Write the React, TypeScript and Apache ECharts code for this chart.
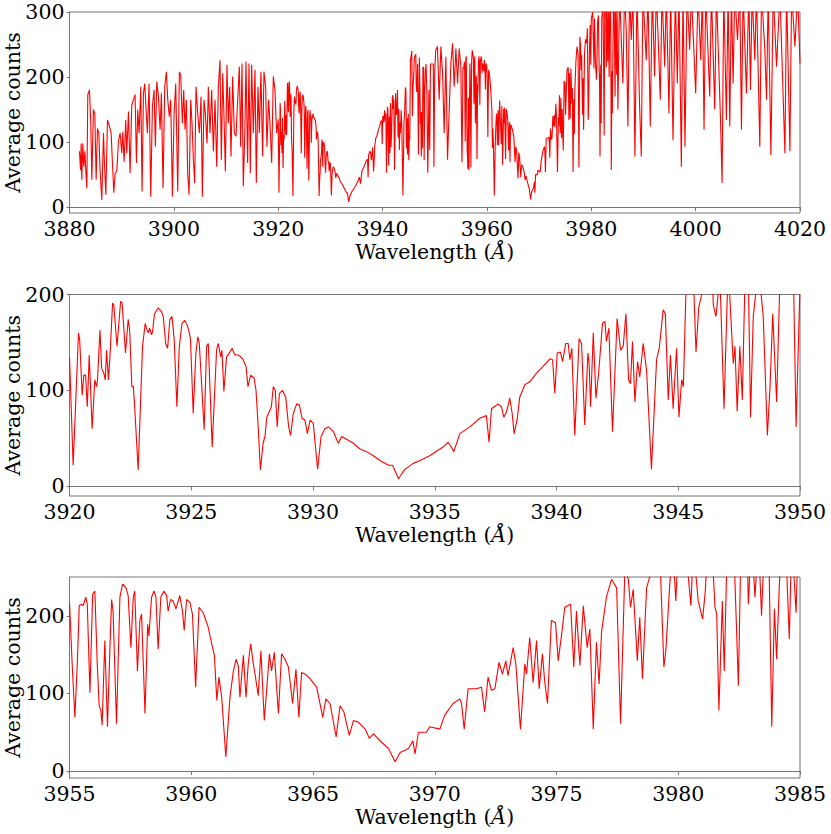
import React, { useEffect, useRef } from "react";
import * as echarts from "echarts";

// ---- Data: [wavelength (Å), average counts] ----
// Blue part of the overview panel (3882–3920 Å)
const blueWing: [number, number][] = [
  [3881.91, 86], [3882.11, 57], [3882.23, 98], [3882.36, 42], [3882.55, 98], [3882.74, 62],
  [3882.94, 86], [3883.13, 55], [3883.32, 29], [3883.51, 173], [3883.83, 180], [3884.08, 129],
  [3884.28, 42], [3884.59, 150], [3884.85, 144], [3885.11, 42], [3885.36, 121], [3885.62, 114],
  [3885.87, 55], [3886.19, 11], [3886.51, 114], [3886.7, 68], [3886.96, 19], [3887.28, 134],
  [3887.66, 124], [3887.98, 114], [3888.23, 68], [3888.49, 22], [3888.74, 52], [3889.06, 55],
  [3889.38, 101], [3889.7, 114], [3890.02, 83], [3890.21, 116], [3890.47, 70], [3890.78, 134],
  [3890.98, 83], [3891.3, 147], [3891.61, 52], [3891.93, 157], [3892.25, 165], [3892.57, 173],
  [3892.83, 68], [3893.08, 150], [3893.34, 114], [3893.66, 185], [3893.91, 24], [3894.17, 175],
  [3894.42, 190], [3894.68, 150], [3894.93, 114], [3895.25, 190], [3895.57, 16], [3895.89, 155],
  [3896.21, 180], [3896.46, 93], [3896.72, 193], [3897.04, 170], [3897.36, 119], [3897.61, 175],
  [3897.93, 29], [3898.25, 185], [3898.57, 208], [3898.83, 165], [3899.14, 139], [3899.4, 165],
  [3899.72, 16], [3900.04, 142], [3900.36, 190], [3900.74, 24], [3901.06, 208], [3901.31, 203],
  [3901.63, 129], [3901.89, 180], [3902.14, 119], [3902.4, 165], [3902.65, 52], [3902.91, 19],
  [3903.23, 165], [3903.48, 129], [3903.74, 73], [3903.99, 37], [3904.25, 185], [3904.57, 144],
  [3904.89, 114], [3905.21, 170], [3905.46, 16], [3905.78, 165], [3906.04, 144], [3906.36, 98],
  [3906.61, 185], [3906.93, 114], [3907.25, 180], [3907.57, 86], [3907.89, 165], [3908.21, 62],
  [3908.53, 185], [3908.84, 226], [3909.1, 73], [3909.36, 206], [3909.61, 139], [3909.87, 55],
  [3910.18, 219], [3910.44, 129], [3910.7, 185], [3910.95, 78], [3911.27, 201], [3911.59, 114],
  [3911.91, 109], [3912.23, 165], [3912.55, 216], [3912.8, 93], [3913.06, 221], [3913.31, 32],
  [3913.63, 124], [3913.82, 224], [3914.14, 68], [3914.4, 221], [3914.65, 52], [3914.91, 219],
  [3915.23, 114], [3915.55, 211], [3915.8, 37], [3916.12, 185], [3916.38, 114], [3916.69, 208],
  [3917.01, 78], [3917.27, 208], [3917.59, 185], [3917.84, 93], [3918.16, 165], [3918.42, 129],
  [3918.75, 68], [3919.06, 201], [3919.38, 180], [3919.69, 114],
];

// Ca II K region (3920–3950 Å), middle panel
const kLine: [number, number][] = [
  [3920.0, 135], [3920.15, 22], [3920.37, 160], [3920.42, 152], [3920.52, 95], [3920.59, 116],
  [3920.66, 116], [3920.73, 83], [3920.81, 137], [3920.93, 60], [3921.04, 111], [3921.11, 104],
  [3921.15, 111], [3921.25, 163], [3921.32, 123], [3921.41, 118], [3921.47, 111], [3921.52, 142],
  [3921.6, 111], [3921.66, 135], [3921.77, 191], [3921.82, 189], [3921.95, 146], [3922.1, 193],
  [3922.16, 191], [3922.3, 139], [3922.41, 174], [3922.47, 163], [3922.56, 104], [3922.62, 104],
  [3922.67, 86], [3922.82, 17], [3923.0, 146], [3923.11, 170], [3923.16, 165], [3923.23, 160],
  [3923.29, 165], [3923.37, 158], [3923.41, 161], [3923.49, 180], [3923.64, 186], [3923.78, 182],
  [3923.85, 177], [3923.95, 149], [3924.03, 144], [3924.12, 174], [3924.21, 177], [3924.3, 153],
  [3924.41, 83], [3924.51, 146], [3924.62, 170], [3924.73, 173], [3924.84, 168], [3924.92, 160],
  [3924.97, 153], [3925.08, 76], [3925.19, 139], [3925.27, 156], [3925.33, 149], [3925.41, 114],
  [3925.53, 59], [3925.63, 146], [3925.7, 149], [3925.86, 41], [3926.04, 142], [3926.11, 149],
  [3926.21, 135], [3926.26, 142], [3926.34, 99], [3926.45, 135], [3926.59, 140], [3926.68, 144],
  [3926.79, 137], [3926.93, 137], [3927.11, 133], [3927.25, 125], [3927.33, 104], [3927.44, 116],
  [3927.58, 113], [3927.66, 100], [3927.75, 62], [3927.84, 17], [3927.95, 45], [3928.03, 52],
  [3928.1, 72], [3928.21, 78], [3928.29, 83], [3928.37, 104], [3928.45, 100], [3928.53, 62],
  [3928.62, 97], [3928.75, 100], [3928.88, 93], [3929.0, 62], [3929.08, 53], [3929.19, 76],
  [3929.33, 86], [3929.44, 85], [3929.55, 71], [3929.67, 69], [3929.77, 55], [3929.88, 69],
  [3930.01, 66], [3930.19, 18], [3930.33, 52], [3930.49, 60], [3930.63, 62], [3930.84, 57],
  [3931.04, 45], [3931.18, 52], [3931.45, 48], [3931.66, 45], [3931.93, 39], [3932.21, 36],
  [3932.48, 32], [3932.75, 27], [3933.1, 22], [3933.27, 22], [3933.51, 8], [3933.64, 13],
  [3933.78, 18], [3934.12, 24], [3934.4, 27], [3934.79, 32], [3935.34, 41], [3935.55, 46],
  [3935.68, 41], [3935.78, 36], [3936.03, 55], [3936.44, 62], [3936.85, 71], [3937.12, 74],
  [3937.23, 46], [3937.33, 81], [3937.6, 86], [3937.74, 83], [3937.84, 72], [3937.95, 78],
  [3938.08, 92], [3938.18, 76], [3938.26, 55], [3938.38, 69], [3938.49, 93], [3938.7, 106],
  [3938.9, 109], [3939.18, 118], [3939.45, 125], [3939.73, 133], [3939.84, 132], [3939.93, 97],
  [3940.03, 139], [3940.16, 140], [3940.25, 130], [3940.38, 149], [3940.48, 149], [3940.55, 132],
  [3940.63, 144], [3940.75, 53], [3940.93, 154], [3941.03, 149], [3941.16, 64], [3941.29, 139],
  [3941.34, 128], [3941.4, 83], [3941.51, 160], [3941.62, 92], [3941.73, 118], [3941.89, 170],
  [3941.99, 172], [3942.05, 151], [3942.15, 165], [3942.3, 57], [3942.49, 175], [3942.63, 142],
  [3942.74, 146], [3942.85, 180], [3942.96, 111], [3943.04, 107], [3943.12, 151], [3943.22, 88],
  [3943.33, 130], [3943.42, 114], [3943.56, 149], [3943.7, 121], [3943.9, 18], [3944.11, 132],
  [3944.22, 144], [3944.38, 184], [3944.47, 180], [3944.59, 90], [3944.68, 137], [3944.79, 81],
  [3944.93, 144], [3945.03, 72], [3945.14, 111], [3945.21, 104], [3945.34, 225], [3945.59, 240],
  [3945.73, 140], [3945.84, 186], [3945.96, 200], [3946.1, 230], [3946.37, 235], [3946.44, 189],
  [3946.55, 177], [3946.71, 220], [3946.88, 81], [3947.05, 230], [3947.26, 128], [3947.33, 146],
  [3947.42, 78], [3947.53, 146], [3947.63, 90], [3947.74, 215], [3947.88, 215], [3947.97, 72],
  [3948.08, 177], [3948.22, 210], [3948.33, 220], [3948.49, 177], [3948.66, 53], [3948.77, 104],
  [3948.88, 180], [3949.04, 88], [3949.18, 220], [3949.73, 220], [3949.84, 62], [3950.0, 210],
];

// Between the two zoomed windows (3950–3955 Å)
const bridge: [number, number][] = [
  [3950.2, 242], [3950.52, 247], [3950.85, 165], [3951.17, 247], [3951.49, 208], [3951.81, 114],
  [3952.13, 231], [3952.45, 73], [3952.77, 150], [3953.09, 221], [3953.41, 252], [3953.73, 185],
  [3954.05, 244], [3954.37, 190], [3954.69, 244],
];

// Ca II H region (3955–3985 Å), bottom panel
const hLine: [number, number][] = [
  [3955.0, 217], [3955.11, 138], [3955.22, 69], [3955.32, 138], [3955.4, 213], [3955.49, 215],
  [3955.56, 213], [3955.67, 224], [3955.73, 215], [3955.84, 101], [3955.95, 228], [3956.04, 232],
  [3956.14, 138], [3956.22, 84], [3956.29, 78], [3956.34, 59], [3956.45, 168], [3956.56, 57],
  [3956.66, 159], [3956.73, 221], [3956.79, 206], [3956.93, 61], [3957.07, 224], [3957.18, 241],
  [3957.32, 236], [3957.41, 226], [3957.52, 159], [3957.62, 224], [3957.68, 232], [3957.79, 129],
  [3957.89, 194], [3957.96, 202], [3958.1, 74], [3958.21, 189], [3958.26, 174], [3958.37, 224],
  [3958.47, 232], [3958.55, 224], [3958.64, 157], [3958.75, 224], [3958.88, 232], [3958.99, 226],
  [3959.05, 206], [3959.15, 221], [3959.26, 219], [3959.37, 209], [3959.53, 226], [3959.64, 206],
  [3959.71, 181], [3959.81, 221], [3959.95, 217], [3960.05, 202], [3960.18, 108], [3960.32, 211],
  [3960.49, 204], [3960.7, 185], [3960.84, 164], [3960.95, 149], [3961.05, 91], [3961.14, 121],
  [3961.25, 95], [3961.42, 18], [3961.59, 95], [3961.73, 129], [3961.84, 144], [3961.93, 136],
  [3962.0, 95], [3962.14, 149], [3962.25, 95], [3962.34, 138], [3962.44, 164], [3962.55, 138],
  [3962.62, 125], [3962.75, 97], [3962.86, 155], [3963.0, 65], [3963.21, 151], [3963.3, 129],
  [3963.41, 153], [3963.58, 74], [3963.71, 151], [3963.85, 144], [3963.99, 134], [3964.16, 87],
  [3964.3, 131], [3964.42, 69], [3964.53, 127], [3964.67, 125], [3964.88, 119], [3965.15, 108],
  [3965.4, 69], [3965.53, 93], [3965.7, 87], [3965.95, 44], [3966.11, 84], [3966.27, 76],
  [3966.49, 46], [3966.66, 65], [3966.86, 63], [3967.14, 54], [3967.32, 42], [3967.48, 48],
  [3967.75, 39], [3968.1, 29], [3968.37, 12], [3968.58, 24], [3968.92, 29], [3969.1, 39],
  [3969.19, 22], [3969.33, 50], [3969.66, 50], [3969.79, 57], [3970.21, 54], [3970.41, 72],
  [3970.75, 87], [3971.03, 93], [3971.1, 87], [3971.21, 54], [3971.37, 106], [3971.71, 106],
  [3971.92, 108], [3972.05, 76], [3972.19, 121], [3972.33, 104], [3972.47, 106], [3972.64, 140],
  [3972.78, 125], [3972.92, 142], [3973.01, 123], [3973.22, 159], [3973.33, 138], [3973.52, 54],
  [3973.7, 138], [3973.77, 125], [3973.9, 172], [3974.04, 114], [3974.18, 168], [3974.29, 106],
  [3974.42, 151], [3974.52, 114], [3974.63, 87], [3974.79, 194], [3974.96, 191], [3975.07, 142],
  [3975.21, 176], [3975.34, 211], [3975.58, 215], [3975.71, 134], [3975.82, 206], [3975.96, 136],
  [3976.1, 213], [3976.26, 159], [3976.37, 183], [3976.51, 54], [3976.64, 166], [3976.75, 112],
  [3976.85, 179], [3977.05, 224], [3977.26, 247], [3977.47, 236], [3977.63, 61], [3977.81, 262],
  [3977.95, 247], [3978.04, 211], [3978.15, 234], [3978.32, 142], [3978.42, 198], [3978.53, 119],
  [3978.7, 236], [3978.9, 258], [3979.11, 252], [3979.25, 275], [3979.41, 134], [3979.49, 155],
  [3979.66, 245], [3979.79, 280], [3979.9, 219], [3980.0, 290], [3980.27, 300], [3980.52, 213],
  [3980.62, 290], [3980.82, 219], [3981.0, 196], [3981.1, 228], [3981.21, 285], [3981.37, 295],
  [3981.51, 211], [3981.58, 202], [3981.67, 78], [3981.81, 219], [3981.89, 129], [3982.01, 290],
  [3982.26, 310], [3982.47, 110], [3982.58, 300], [3982.81, 310], [3982.88, 215], [3983.01, 305],
  [3983.15, 224], [3983.29, 300], [3983.42, 200], [3983.56, 310], [3983.7, 320], [3983.84, 57],
  [3983.95, 209], [3984.04, 144], [3984.14, 230], [3984.25, 310], [3984.38, 320], [3984.56, 170],
  [3984.66, 300], [3984.84, 204], [3984.93, 310],
];

// Red part of the overview panel (3985–4020 Å)
const redWing: [number, number][] = [
  [3985.1, 150], [3985.42, 330], [3986.06, 190], [3986.38, 330], [3986.7, 272], [3987.02, 124],
  [3987.34, 330], [3987.66, 257], [3987.98, 330], [3988.36, 78], [3988.75, 330], [3989.26, 155],
  [3989.58, 78], [3989.9, 330], [3990.54, 226], [3990.86, 330], [3991.31, 124], [3991.69, 330],
  [3992.14, 201], [3992.46, 330], [3992.78, 267], [3993.23, 165], [3993.55, 330], [3994.07, 216],
  [3994.38, 330], [3994.89, 144], [3995.21, 330], [3995.66, 103], [3996.11, 330], [3996.49, 190],
  [3996.81, 330], [3997.26, 62], [3997.58, 330], [3997.96, 93], [3998.35, 330], [3998.86, 242],
  [3999.18, 330], [4000.01, 175], [4000.46, 330], [4000.97, 226], [4001.29, 330], [4001.61, 119],
  [4001.93, 330], [4002.7, 170], [4003.02, 330], [4003.66, 150], [4003.98, 330], [4004.75, 139],
  [4005.07, 37], [4005.39, 330], [4005.9, 134], [4006.22, 330], [4006.54, 124], [4006.86, 330],
  [4007.18, 190], [4007.5, 330], [4008.02, 257], [4008.46, 330], [4008.78, 119], [4009.1, 330],
  [4009.74, 175], [4010.19, 330], [4010.51, 180], [4010.83, 330], [4011.34, 226], [4011.66, 330],
  [4012.3, 93], [4012.62, 330], [4013.26, 242], [4013.59, 165], [4013.91, 330], [4014.42, 80],
  [4014.87, 330], [4015.51, 216], [4016.15, 330], [4017.11, 83], [4017.43, 330], [4018.07, 86],
  [4018.39, 330], [4019.03, 247], [4019.54, 330], [4020.0, 221],
];

// Axis ranges and tick labels
const xTicks1 = { min: 3880, max: 4020, step: 20 };
const xTicks2 = { min: 3920, max: 3950, step: 5 };
const xTicks3 = { min: 3955, max: 3985, step: 5 };
const yTicks1 = [0, 100, 200, 300];
const yTicks2 = [0, 100, 200];
const yTicks3 = [0, 100, 200];
const yRange1 = [-9, 300];
const yRange2 = [-10, 200];
const yRange3 = [-9, 250];

const FONT = "DejaVu Serif";
const FS = 20.5;
const SPINE = "#777777";

export default function App() {
  const ref = useRef<HTMLDivElement>(null);

  useEffect(() => {
    if (!ref.current) return;
    const chart = echarts.init(ref.current, undefined, { renderer: "svg" });

    const overview = [...blueWing, ...kLine, ...bridge, ...hLine, ...redWing];

    const grids = [
      { left: 69.5, top: 12, width: 730.5, height: 201 },
      { left: 69.5, top: 294.5, width: 730.5, height: 201.5 },
      { left: 69.5, top: 577, width: 730.5, height: 201 },
    ].map((g) => ({
      ...g,
      show: true,
      borderColor: SPINE,
      borderWidth: 1,
      backgroundColor: "transparent",
      containLabel: false,
      outerBoundsMode: "none",
    }));

    const xr = [xTicks1, xTicks2, xTicks3];
    const yr = [yRange1, yRange2, yRange3];
    const yt = [yTicks1, yTicks2, yTicks3];

    const xAxis = xr.map((t, i) => ({
      type: "value",
      gridIndex: i,
      min: t.min,
      max: t.max,
      interval: t.step,
      name: "Wavelength ({i|Å})",
      nameLocation: "middle",
      nameGap: 28,
      nameMoveOverlap: false,
      nameTextStyle: {
        fontFamily: FONT,
        fontSize: FS,
        color: "#000",
        rich: { i: { fontFamily: FONT, fontSize: FS, fontStyle: "italic", color: "#000" } },
      },
      axisLine: { show: true, lineStyle: { color: SPINE, width: 1 } },
      axisTick: { show: true, inside: false, length: 4, lineStyle: { color: SPINE } },
      axisLabel: {
        fontFamily: FONT,
        fontSize: FS,
        lineHeight: 15,
        color: "#000",
        margin: 8,
        formatter: (v: number) => String(Math.round(v)),
      },
      splitLine: { show: false },
    }));

    const yAxis = yr.map((r, i) => ({
      type: "value",
      gridIndex: i,
      min: r[0],
      max: r[1],
      name: "Average counts",
      nameLocation: "middle",
      nameGap: 46,
      nameMoveOverlap: false,
      nameRotate: 90,
      nameTextStyle: { fontFamily: FONT, fontSize: FS, color: "#000" },
      axisLine: { show: true, lineStyle: { color: SPINE, width: 1 } },
      axisTick: { show: true, inside: false, length: 3, lineStyle: { color: SPINE }, customValues: yt[i] },
      axisLabel: {
        fontFamily: FONT,
        fontSize: FS,
        lineHeight: 15,
        color: "#000",
        margin: 5,
        customValues: yt[i],
        formatter: (v: number) => String(Math.round(v)),
      },
      splitLine: { show: false },
    }));

    const datasets = [overview, kLine, hLine];
    const series = datasets.map((d, i) => ({
      type: "line",
      xAxisIndex: i,
      yAxisIndex: i,
      data: d,
      showSymbol: false,
      symbol: "none",
      clip: true,
      lineStyle: { color: "#ff0000", width: 1.1 },
      itemStyle: { color: "#ff0000" },
    }));

    chart.setOption({
      animation: false,
      backgroundColor: "#ffffff",
      grid: grids,
      xAxis,
      yAxis,
      series,
    });

    return () => chart.dispose();
  }, []);

  return (
    <div
      ref={ref}
      style={{ position: "absolute", left: 0, top: 0, width: 831, height: 834 }}
    />
  );
}
